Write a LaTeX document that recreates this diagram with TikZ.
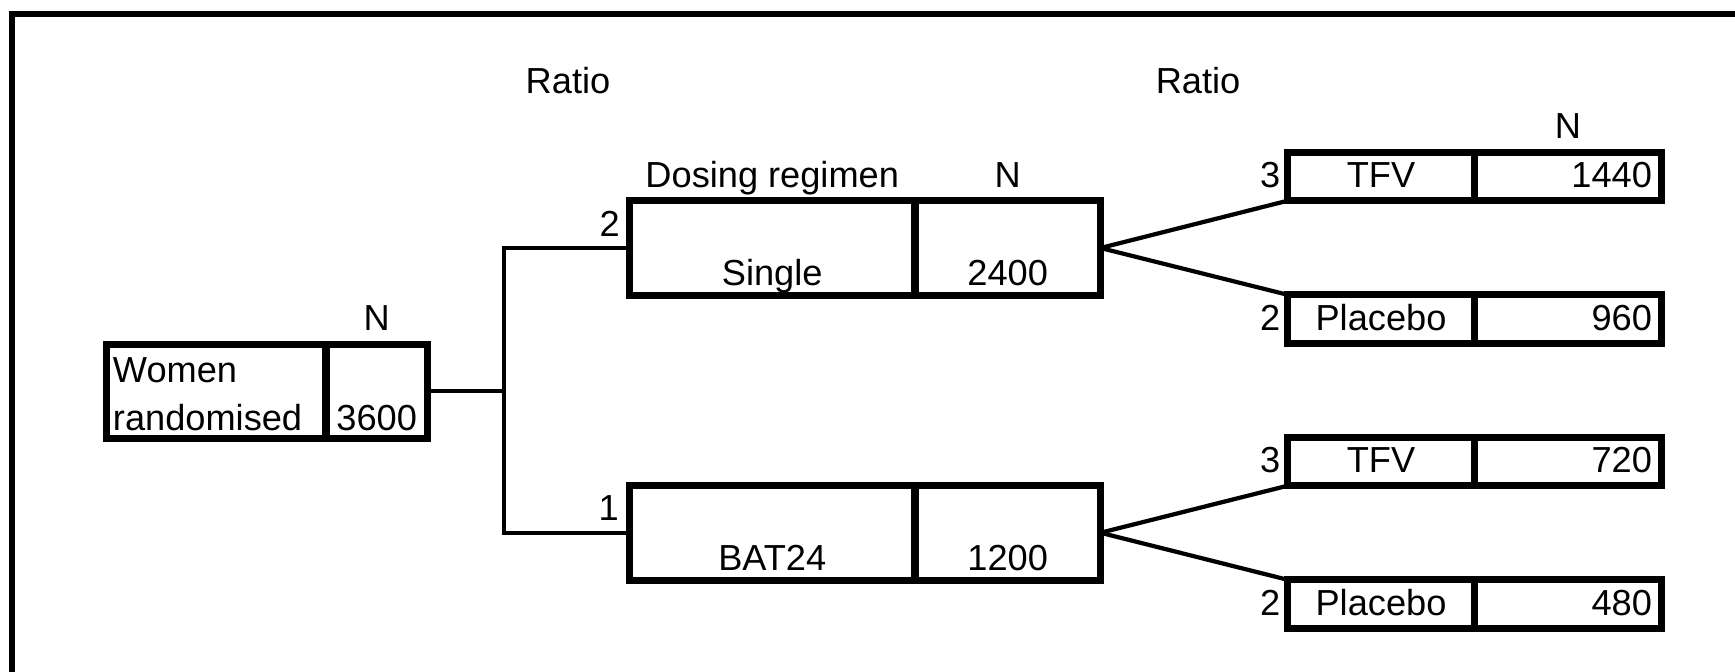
\documentclass[tikz,border=0pt]{standalone}
\usepackage{fontspec}
\setmainfont{Liberation Sans}
\usetikzlibrary{positioning, calc}

\begin{document}
\begin{tikzpicture}[
    x=0.1mm, y=-0.1mm,
    every node/.style={font=\fontsize{10.3}{13.7}\selectfont},
    line/.style={line width=1.2pt},
    cell/.style={draw, line width=2pt, inner sep=0pt, outer sep=0pt,
                 minimum width=#1},
    tall/.style={cell=#1, minimum height=9.5mm, text height=8.5mm, text depth=1mm},
    flat/.style={cell=#1, minimum height=4.85mm, text height=3.55mm, text depth=1.3mm},
    numr/.style={text width=16.8mm, align=right},
    head/.style={anchor=base},
    ratio/.style={anchor=base east, inner sep=0pt},
  ]
  \useasboundingbox (0,0) rectangle (1735,672);
  \draw[line width=1.6pt] (1760,14) -- (12,14) -- (12,700);

  % Headers
  \node[head] (ratioA) at (568,94)  {Ratio};
  \node[head] (ratioB) at (1198,94) {Ratio};

  % Randomised women
  \node[cell=21.95mm, minimum height=9.4mm, text width=20.65mm, align=left,
        text height=3.85mm, text depth=5.55mm, anchor=west]
    (women) at (106.5,391.2) {Women\\randomised};
  \node[cell=10.15mm, minimum height=9.4mm, text height=8.65mm, text depth=0.75mm,
        right=0pt of women] (womenN) {3600};
  \node[head] (womenNh) at ($(womenN.north)+(0,-14)$) {N};

  % Dosing regimen
  \node[tall=28.55mm, anchor=west] (single) at (629.5,248) {Single};
  \node[tall=18.55mm, right=0pt of single] (singleN) {2400};
  \node[tall=28.55mm, anchor=west] (bat) at (629.5,532.75) {BAT24};
  \node[tall=18.55mm, right=0pt of bat] (batN) {1200};
  \node[head] (dosing)   at ($(single.north)+(0,-13.5)$)  {Dosing regimen};
  \node[head] (singleNh) at ($(singleN.north)+(0,-13.5)$) {N};
  \node[ratio] (rSingle) at ($(single.west)+(-9,-12)$) {2};
  \node[ratio] (rBat)    at ($(bat.west)+(-10,-12)$)   {1};

  % Product arms
  \node[flat=18.7mm, anchor=west] (tfvA)  at (1287.5,176.5) {TFV};
  \node[flat=18.7mm, numr, right=0pt of tfvA]  (tfvAN)  {1440};
  \node[flat=18.7mm, anchor=west] (placA) at (1287.5,319)   {Placebo};
  \node[flat=18.7mm, numr, right=0pt of placA] (placAN) {960};
  \node[flat=18.7mm, anchor=west] (tfvB)  at (1287.5,461.5) {TFV};
  \node[flat=18.7mm, numr, right=0pt of tfvB]  (tfvBN)  {720};
  \node[flat=18.7mm, anchor=west] (placB) at (1287.5,604)   {Placebo};
  \node[flat=18.7mm, numr, right=0pt of placB] (placBN) {480};
  \node[head] (tfvANh) at ($(tfvAN.north)+(0,-13.5)$) {N};
  \node[ratio] (rTfvA)  at ($(tfvA.west)+(-6.5,11.25)$)  {3};
  \node[ratio] (rPlacA) at ($(placA.west)+(-6.5,11.25)$) {2};
  \node[ratio] (rTfvB)  at ($(tfvB.west)+(-6.5,11.25)$)  {3};
  \node[ratio] (rPlacB) at ($(placB.west)+(-6.5,11.25)$) {2};

  % Connections
  \coordinate (split) at (504,391.2);
  \draw[line] (womenN.east) -- (split);
  \draw[line] (single.west) -| (split) |- (bat.west);

  \draw[line] (singleN.east) -- (tfvA.south west);
  \draw[line] (singleN.east) -- (placA.north west);
  \draw[line] (batN.east) -- (tfvB.south west);
  \draw[line] (batN.east) -- (placB.north west);
\end{tikzpicture}
\end{document}
